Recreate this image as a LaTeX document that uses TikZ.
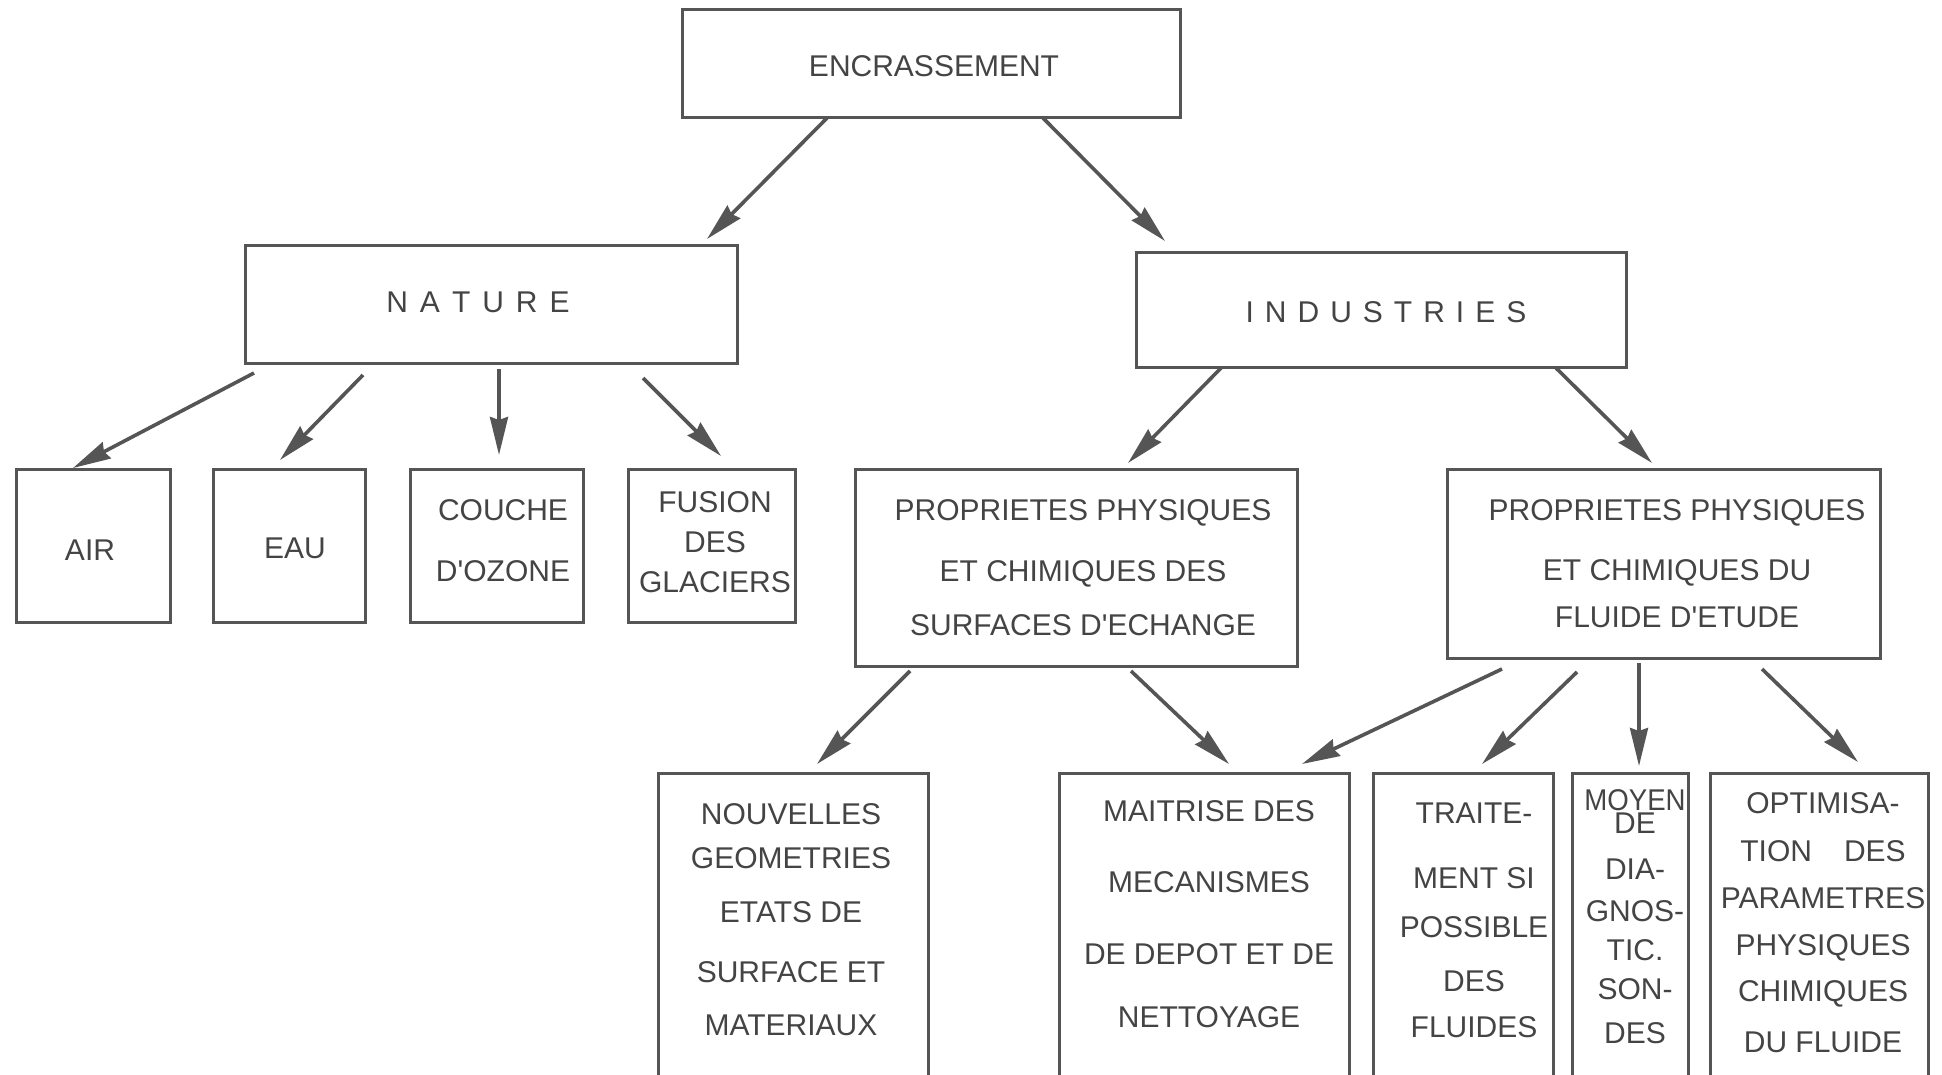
\documentclass[tikz,border=0pt]{standalone}
\usepackage{graphicx}
\usepackage{fontspec}
\setmainfont{Liberation Sans}[Ligatures=TeXOff]
\usetikzlibrary{arrows.meta,calc,fit}
\definecolor{ink}{HTML}{555555}
\definecolor{txt}{HTML}{444444}
\begin{document}
\begin{tikzpicture}[x=0.5pt,y=-0.5pt,
  box/.style={draw=ink,line width=1.5pt,inner sep=0pt,outer sep=0pt},
  lbl/.style={text=txt,font=\fontsize{15}{20}\selectfont,align=center,inner sep=0pt},
  arr/.style={draw=ink,line width=1.8pt,-{Stealth[length=19pt,width=9pt,inset=1.5pt]}}]
\useasboundingbox (0,0) rectangle (1942,1075);
\clip (0,0) rectangle (1942,1075);
\fill[white] (0,0) rectangle (1942,1075);
% boxes
\node[box,fit={(682,10) (1180,118)}] (enc) {};
\node[box,fit={(245,246) (737,363)}] (nature) {};
\node[box,fit={(1136,253) (1626,367)}] (ind) {};
\node[box,fit={(16,469) (170,622)}] (air) {};
\node[box,fit={(213,469) (365,622)}] (eau) {};
\node[box,fit={(410,469) (583,622)}] (couche) {};
\node[box,fit={(628,469) (795,622)}] (fusion) {};
\node[box,fit={(855,469) (1297,666)}] (prop1) {};
\node[box,fit={(1447,469) (1880,658)}] (prop2) {};
\node[box,fit={(658,773) (928,1085)}] (nouv) {};
\node[box,fit={(1059,773) (1349,1085)}] (mait) {};
\node[box,fit={(1373,773) (1553,1085)}] (traite) {};
\node[box,fit={(1572,773) (1688,1085)}] (moyen) {};
\node[box,fit={(1710,773) (1928,1085)}] (optim) {};
% texts
\node[lbl] (encT) at (934,66) {ENCRASSEMENT};
\node[lbl] (natT) at (478,302) {\spaceskip=6pt\relax N A T U R E};
\node[lbl] (indT) at (1386,312) {\spaceskip=5.5pt\relax I N D U S T R I E S};
\node[lbl] (airT) at (90,550) {AIR};
\node[lbl] (eauT) at (295,548) {EAU};
\node[lbl] (coucheT) at (503,540.5) {COUCHE\\[10.5pt]D'OZONE};
\node[lbl] (fusionT) at (715,542) {FUSION\\DES\\GLACIERS};
\node[lbl] (prop1T) at (1083,567.5) {PROPRIETES PHYSIQUES\\[10.5pt]ET CHIMIQUES DES\\[7pt]SURFACES D'ECHANGE};
\node[lbl] (prop2T) at (1677,563.5) {PROPRIETES PHYSIQUES\\[10pt]ET CHIMIQUES DU\\[3.5pt]FLUIDE D'ETUDE};
\node[lbl] (nouvT) at (791,919.5) {NOUVELLES\\[2pt]GEOMETRIES\\[7pt]ETATS DE\\[10pt]SURFACE ET\\[6.5pt]MATERIAUX};
\node[lbl] (maitT) at (1209,914) {MAITRISE DES\\[15.5pt]MECANISMES\\[16pt]DE DEPOT ET DE\\[11.5pt]NETTOYAGE};
\node[lbl] (traiteT) at (1474,920.5) {TRAITE-\\[12.5pt]MENT SI\\[4.5pt]POSSIBLE\\[7pt]DES\\[3pt]FLUIDES};
\node[lbl] (moyenT) at (1635,916.5) {\scalebox{0.92}[1]{MOYEN}\\[-8.5pt]DE\\[3pt]DIA-\\[1pt]GNOS-\\[-0.5pt]TIC.\\[-0.5pt]SON-\\[2pt]DES};
\node[lbl] (optimT) at (1823,923) {OPTIMISA-\\[4pt]TION\hspace{16pt}DES\\[3.5pt]PARAMETRES\\[3.5pt]PHYSIQUES\\[3pt]CHIMIQUES\\[5.5pt]DU FLUIDE};
% arrows
\draw[arr] ($(enc.south west)+(145,0)$) -- ($(nature.north west)+(462,-7)$);
\draw[arr] ($(enc.south west)+(361,0)$) -- ($(ind.north west)+(29,-12)$);
\draw[arr] ($(nature.south west)+(9,10)$) -- ($(air.north west)+(57,-1)$);
\draw[arr] ($(nature.south west)+(118,12)$) -- ($(eau.north west)+(67,-9)$);
\draw[arr] ($(nature.south west)+(254,6)$) -- ($(couche.north west)+(89,-14)$);
\draw[arr] ($(nature.south west)+(398,15)$) -- ($(fusion.north west)+(93,-13)$);
\draw[arr] ($(ind.south west)+(85,1)$) -- ($(prop1.north west)+(273,-6)$);
\draw[arr] ($(ind.south west)+(420,1)$) -- ($(prop2.north west)+(205,-6)$);
\draw[arr] ($(prop1.south west)+(55,5)$) -- ($(nouv.north west)+(159,-9)$);
\draw[arr] ($(prop1.south west)+(276,5)$) -- ($(mait.north west)+(170,-9)$);
\draw[arr] ($(prop2.south west)+(55,11)$) -- ($(mait.north west)+(243,-9)$);
\draw[arr] ($(prop2.south west)+(130,14)$) -- ($(traite.north west)+(109,-9)$);
\draw[arr] ($(prop2.south west)+(192,5)$) -- ($(moyen.north west)+(67,-7)$);
\draw[arr] ($(prop2.south west)+(315,11)$) -- ($(optim.north west)+(148,-11)$);
\end{tikzpicture}
\end{document}
